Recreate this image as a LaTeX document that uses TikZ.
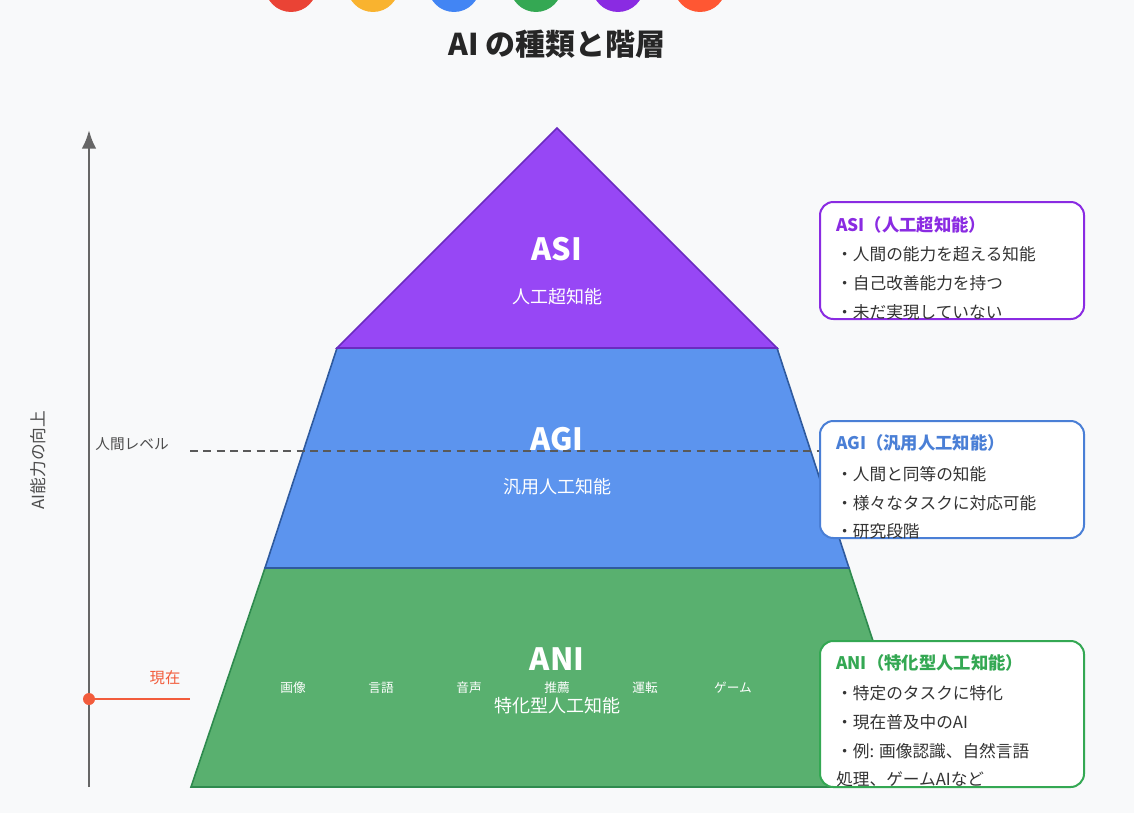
\documentclass[tikz,border=0pt]{standalone}
\usepackage{fontspec}
\usetikzlibrary{arrows.meta}
\setmainfont{Noto Sans CJK JP}
\begin{document}
\begin{tikzpicture}[x=0.75pt,y=-0.75pt,
  lbl/.style={inner sep=0pt,text=white},
  info/.style={line width=1.5pt,rounded corners=10pt,fill=white},
  itm/.style={anchor=west,inner sep=0pt,font=\fontsize{12.5}{14}\selectfont,text=black!80},
  ttl/.style={anchor=west,inner sep=0pt,font=\fontsize{13}{15}\selectfont\bfseries}]
\definecolor{bg}{HTML}{F8F9FA}
\definecolor{cpur}{HTML}{9747F5}\definecolor{dpur}{HTML}{6A2BC0}
\definecolor{cblu}{HTML}{5C94EE}\definecolor{dblu}{HTML}{2F5A9E}
\definecolor{cgrn}{HTML}{59B06F}\definecolor{dgrn}{HTML}{2E8B4E}
\definecolor{tpur}{HTML}{8A2BE2}\definecolor{tblu}{HTML}{4A7FD6}\definecolor{tgrn}{HTML}{34A853}
\definecolor{cred}{HTML}{F25C3C}
\fill[bg] (0,0) rectangle (1134,813);
\useasboundingbox (0,0) rectangle (1134,813);
\begin{scope}
\clip (0,0) rectangle (1134,813);
\foreach \x/\c in {291/EA4335,373/F9B32F,454/4285F4,536/34A853,618/8A2BE2,700/FF5733}{
  \definecolor{tmp}{HTML}{\c}\fill[tmp] (\x,-14) circle (26);}
\end{scope}
\node[inner sep=0pt,font=\fontsize{22.5}{26}\selectfont\bfseries,text=black!85] (title) at (557,44) {AI の種類と階層};
% pyramid
\draw[dgrn,line width=1.2pt,fill=cgrn] (265,568) -- (849,568) -- (921,787) -- (191,787) -- cycle;
\draw[dblu,line width=1.2pt,fill=cblu] (337,348) -- (777,348) -- (849,568) -- (265,568) -- cycle;
\draw[dpur,line width=1.2pt,fill=cpur] (557,128) -- (777,348) -- (337,348) -- cycle;
\node[lbl,font=\fontsize{23}{26}\selectfont\bfseries] (asi) at (557,249) {ASI};
\node[lbl,font=\fontsize{13.5}{15}\selectfont] (asis) at (557,297) {人工超知能};
\node[lbl,font=\fontsize{23}{26}\selectfont\bfseries] (agi) at (557,439) {AGI};
\node[lbl,font=\fontsize{13.5}{15}\selectfont] (agis) at (557,487) {汎用人工知能};
\node[lbl,font=\fontsize{23}{26}\selectfont\bfseries] (ani) at (557,659) {ANI};
\node[lbl,font=\fontsize{13.5}{15}\selectfont] (anis) at (557,706) {特化型人工知能};
\foreach \x/\t in {293/画像,381/言語,469/音声,557/推薦,645/運転,733/ゲーム}
  \node[lbl,font=\fontsize{9.5}{11}\selectfont] at (\x,688) {\t};
% human level
\coordinate (hl1) at (190,451); \coordinate (hl2) at (842,451);
\draw[black!65,dash pattern=on 6pt off 4pt,line width=1.3pt] (hl1) -- (hl2);
\node[inner sep=0pt,font=\fontsize{11}{13}\selectfont,text=black!70] (hlt) at (132,444) {人間レベル};
% axis
\coordinate (ab) at (89,787); \coordinate (at) at (89,130);
\draw[black!60,line width=2pt,-{Latex[length=14pt,width=11pt]}] (ab) -- (at);
\node[rotate=90,inner sep=0pt,font=\fontsize{12.5}{14}\selectfont,text=black!70] (axl) at (38,460) {AI能力の向上};
% now
\coordinate (nd) at (89,699); \coordinate (ne) at (190,699);
\draw[cred,line width=1.5pt] (nd) -- (ne);
\fill[cred] (nd) circle (6);
\node[inner sep=0pt,font=\fontsize{11.5}{13}\selectfont,text=cred] (now) at (165,678) {現在};
% info boxes
\draw[info,draw=tpur] (820,202) rectangle (1084,319);
\node[ttl,text=tpur] at (836,225) {ASI（人工超知能）};
\node[itm] at (836,254) {・人間の能力を超える知能};
\node[itm] at (836,283) {・自己改善能力を持つ};
\node[itm] at (836,312) {・未だ実現していない};
\draw[info,draw=tblu] (820,421) rectangle (1084,538);
\node[ttl,text=tblu] at (836,443) {AGI（汎用人工知能）};
\node[itm] at (836,474) {・人間と同等の知能};
\node[itm] at (836,503) {・様々なタスクに対応可能};
\node[itm] at (836,531) {・研究段階};
\draw[info,draw=tgrn] (820,641) rectangle (1084,787);
\node[ttl,text=tgrn] at (836,663) {ANI（特化型人工知能）};
\node[itm] at (836,693) {・特定のタスクに特化};
\node[itm] at (836,722) {・現在普及中のAI};
\node[itm] at (836,751) {・例: 画像認識、自然言語};
\node[itm] at (836,779) {処理、ゲームAIなど};
\end{tikzpicture}
\end{document}
